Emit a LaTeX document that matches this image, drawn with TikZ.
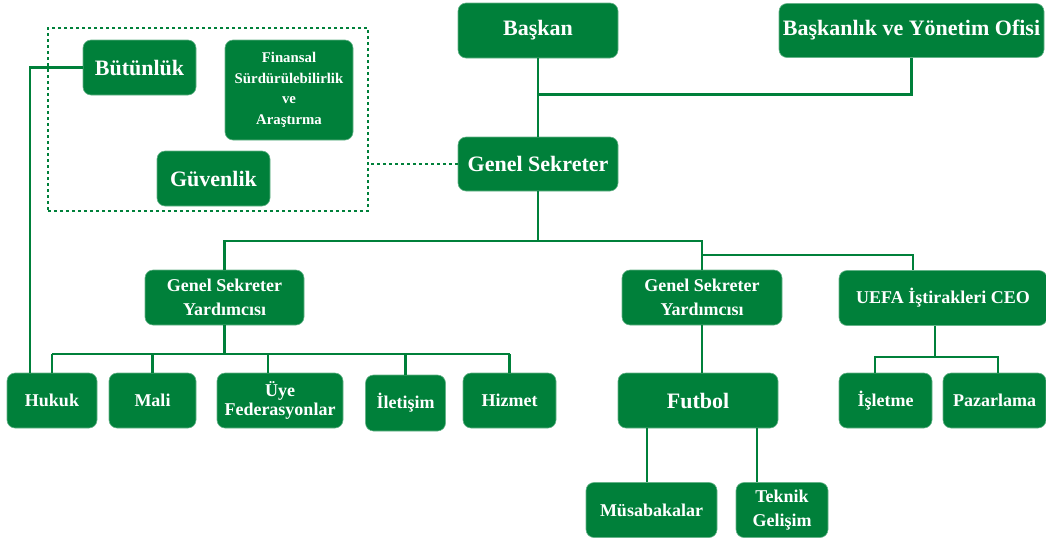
\documentclass[tikz,border=0pt]{standalone}
\usepackage{fontspec}
\setmainfont{Liberation Serif}
\definecolor{ugreen}{RGB}{0,128,58}
\begin{document}
\begin{tikzpicture}[x=1pt,y=-1pt,
  box/.style={fill=ugreen,draw=ugreen!60!white,line width=0.6pt,rounded corners=8pt,
    text=white,align=center,inner sep=1pt,font=\bfseries},
  fa/.style={font=\fontsize{22}{24}\selectfont\bfseries},
  fb/.style={font=\fontsize{18}{24.5}\selectfont\bfseries},
  fc/.style={font=\fontsize{14.8}{20.5}\selectfont\bfseries},
  conn/.style={draw=ugreen,line width=2.9pt},
  dotbox/.style={draw=ugreen,line width=2.8pt,dash pattern=on 2.6pt off 3.4pt}]
\useasboundingbox (0,0) rectangle (1046,539);

% top level
\node[box,fa,minimum width=160,minimum height=55] (baskan) at (538,30.5) {Başkan};
\node[box,fa,minimum width=265,minimum height=54] (ofis) at (911.5,30.5) {Başkanlık ve Yönetim Ofisi};
\node[box,fa,minimum width=160,minimum height=54] (gs) at (538,164) {Genel Sekreter};

% dotted group
\node[dotbox,minimum width=320,minimum height=183,inner sep=0pt] (grp) at (208,119.5) {};
\node[box,fa,minimum width=113,minimum height=55] (butunluk) at (139.5,67.5) {Bütünlük};
\node[box,fc,minimum width=128,minimum height=100] (finansal) at (289,90) {Finansal\\Sürdürülebilirlik\\ve\\Araştırma};
\node[box,fa,minimum width=113,minimum height=55] (guvenlik) at (213.5,178.5) {Güvenlik};

% second level
\node[box,fb,minimum width=159,minimum height=55] (gsy1) at (224.5,297.5) {Genel Sekreter\\Yardımcısı};
\node[box,fb,minimum width=160,minimum height=55] (gsy2) at (702,297.5) {Genel Sekreter\\Yardımcısı};
\node[box,fb,minimum width=208,minimum height=55] (uefa) at (943,298) {UEFA İştirakleri CEO};

% bottom row left
\node[box,fb,minimum width=90,minimum height=55] (hukuk) at (52,400.5) {\raisebox{-3pt}{Hukuk}};
\node[box,fb,minimum width=87,minimum height=55] (mali) at (152.5,400.5) {Mali};
\node[box,fb,minimum width=126,minimum height=55] (uye) at (280,400.5) {\raisebox{4pt}{\shortstack{Üye\\Federasyonlar}}};
\node[box,fb,minimum width=80,minimum height=56] (iletisim) at (405.5,403) {İletişim};
\node[box,fb,minimum width=93,minimum height=55] (hizmet) at (509.5,400.5) {Hizmet};

% football
\node[box,fa,minimum width=160,minimum height=55] (futbol) at (698,400.5) {Futbol};
\node[box,fb,minimum width=131,minimum height=55] (musab) at (651.5,510) {Müsabakalar};
\node[box,fb,minimum width=92,minimum height=55] (teknik) at (782,510) {Teknik\\Gelişim};

% UEFA subs
\node[box,fb,minimum width=93,minimum height=55] (isletme) at (885.5,400.5) {İşletme};
\node[box,fb,minimum width=103,minimum height=55] (pazar) at (994.5,400.5) {Pazarlama};

% junction coordinates
\coordinate (j1) at (538,94.5);
\coordinate (j2) at (538,241);
\coordinate (j3) at (702,255);
\coordinate (ux) at (913,255);
\coordinate (bl) at (30,67.5);
\coordinate (b1) at (226,354);
\coordinate (uyex) at (268,354);
\coordinate (m1) at (647,0);
\coordinate (t1) at (757,0);
\coordinate (u3) at (935,357);
\coordinate (ik) at (875,357);
\coordinate (pz) at (998,357);

% connectors
\draw[conn] (baskan.south) -- (gs.north);
\draw[conn] (ofis.south) |- (j1);
\draw[conn] (gs.south) -- (j2);
\draw[conn] (gsy1.north) |- (j2) -| (gsy2.north);
\draw[conn] (j3) -- (ux) -- (ux |- uefa.north);
\draw[dotbox] (gs.west) -- (gs.west -| grp.east);
\draw[conn] (butunluk.west) -- (bl) -- (bl |- hukuk.north);

\draw[conn] (gsy1.south) -- (gsy1.south |- b1);
\draw[conn] (hukuk.north |- b1) -- (hizmet.north |- b1);
\draw[conn] (hukuk.north |- b1) -- (hukuk.north);
\draw[conn] (mali.north |- b1) -- (mali.north);
\draw[conn] (uyex) -- (uyex |- uye.north);
\draw[conn] (iletisim.north |- b1) -- (iletisim.north);
\draw[conn] (hizmet.north |- b1) -- (hizmet.north);

\draw[conn] (gsy2.south) -- (gsy2.south |- futbol.north);
\draw[conn] (futbol.south -| m1) -- (musab.north -| m1);
\draw[conn] (futbol.south -| t1) -- (teknik.north -| t1);

\draw[conn] (uefa.south -| u3) -- (u3);
\draw[conn] (ik |- isletme.north) |- (pz) -- (pz |- pazar.north);
\end{tikzpicture}
\end{document}
